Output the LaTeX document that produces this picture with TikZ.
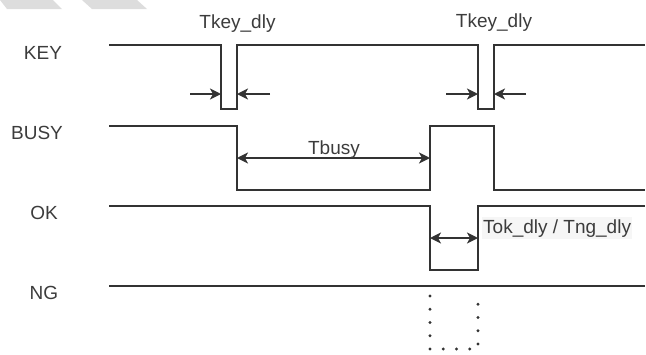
\documentclass[tikz,border=0pt]{standalone}
\usepackage{fontspec}
\setmainfont{Liberation Sans}
\usetikzlibrary{arrows.meta}
\definecolor{linec}{HTML}{333333}
\definecolor{txtc}{HTML}{3C3C3C}
\definecolor{markc}{HTML}{DDDDDD}
\definecolor{tagbg}{HTML}{F6F6F6}
\begin{document}
\begin{tikzpicture}[x=1pt,y=-1pt,
  wave/.style={line width=1.7pt,draw=linec,line join=miter},
  sig/.style={text=txtc,font=\fontsize{19}{21}\selectfont,inner sep=0pt},
  dim/.style={line width=1.7pt,draw=linec,-{Stealth[length=11pt,width=11pt,inset=3pt]}},
  dimboth/.style={dim,{Stealth[length=11pt,width=11pt,inset=3pt]}-{Stealth[length=11pt,width=11pt,inset=3pt]}}]
\useasboundingbox (0,0) rectangle (646,354);
\fill[markc] (0,0) -- (53,0) -- (62,9) -- (7,9) -- cycle;
\fill[markc] (82,0) -- (137,0) -- (147,9) -- (92,9) -- cycle;
% signal names
\node[sig] (key) at (43,53) {KEY};
\node[sig] (busy) at (37,133) {BUSY};
\node[sig] (ok) at (44,213) {OK};
\node[sig] (ng) at (44,293) {NG};
% waveforms
\draw[wave] (109,45) -- (221,45) -- (221,109) -- (237,109) -- (237,45) -- (478,45)
  -- (478,109) -- (494,109) -- (494,45) -- (645,45);
\draw[wave] (109,126) -- (237,126) -- (237,190) -- (430,190) -- (430,126) -- (494,126)
  -- (494,190) -- (645,190);
\draw[wave] (109,206) -- (430,206) -- (430,270) -- (478,270) -- (478,206) -- (645,206);
\draw[wave] (109,286) -- (645,286);
\draw[line width=3.2pt,draw=linec,line cap=round,dash pattern=on 0pt off 13.25pt]
  (430,296) -- (430,349) -- (478,349) -- (478,296);
% timing marks
\foreach \x/\n in {221/a,237/b,478/c,494/d}
  \coordinate (k\n) at (\x,94);
\coordinate (ka0) at (190,94);
\coordinate (kb0) at (270,94);
\coordinate (kc0) at (446,94);
\coordinate (kd0) at (526,94);
\draw[dim] (ka0) -- (ka);
\draw[dim] (kb0) -- (kb);
\draw[dim] (kc0) -- (kc);
\draw[dim] (kd0) -- (kd);
\node[sig,anchor=base] (dly1) at (237.5,28) {Tkey\_dly};
\node[sig,anchor=base] (dly2) at (494,27) {Tkey\_dly};
\coordinate (bs) at (237,158);
\coordinate (be) at (430,158);
\draw[dimboth] (bs) -- (be);
\node[sig,anchor=base] (tbusy) at (334,154) {Tbusy};
\coordinate (os) at (430,238);
\coordinate (oe) at (478,238);
\draw[dimboth] (os) -- (oe);
\node[sig,anchor=base west,fill=tagbg,inner xsep=1pt,inner ysep=2pt] (tok) at (482,233) {Tok\_dly / Tng\_dly};
\end{tikzpicture}
\end{document}
